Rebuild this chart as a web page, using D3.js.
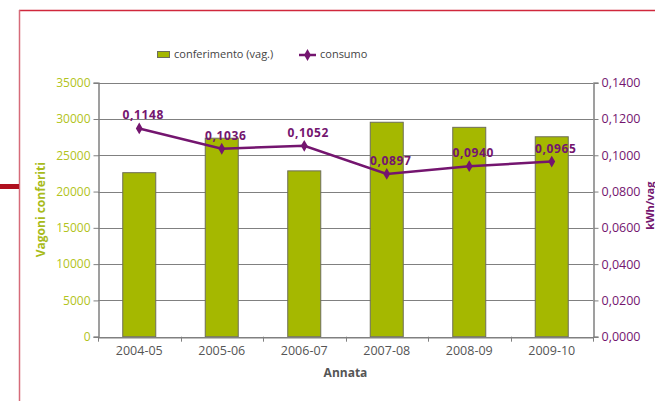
<!DOCTYPE html>
<html><head><meta charset="utf-8">
<script src="https://cdn.jsdelivr.net/npm/d3@7"></script>
<style>body{margin:0;background:#fff}svg{display:block}text{font-family:"DejaVu Sans",sans-serif}</style>
</head><body><svg id="c" width="655" height="401"></svg>
<script>
const categories = ["2004-05","2005-06","2006-07","2007-08","2008-09","2009-10"];
const conferimento = [22600, 27350, 22850, 29550, 28850, 27550];
const consumo = [0.1148, 0.1036, 0.1052, 0.0897, 0.0940, 0.0965];
const consumoLabels = ["0,1148","0,1036","0,1052","0,0897","0,0940","0,0965"];
const leftTicks = [0,5000,10000,15000,20000,25000,30000,35000];
const rightTicks = [0,0.02,0.04,0.06,0.08,0.10,0.12,0.14];

const svg = d3.select("#c");
const L=98, R=593, T=82.7, B=336.7;
const green="#a5b800", purple="#74156f", gray="#808080";
const font="'Open Sans',sans-serif";

// frame
svg.append("line").attr("x1",19).attr("x2",655).attr("y1",10.5).attr("y2",10.5).attr("stroke","#d0283c").attr("stroke-width",1.5);
svg.append("line").attr("x1",19.5).attr("x2",19.5).attr("y1",10).attr("y2",401).attr("stroke","#d66b7a").attr("stroke-width",1.5);
svg.append("rect").attr("x",0).attr("y",184).attr("width",19).attr("height",5).attr("fill","#b0101f");

const x = d3.scaleBand().domain(categories).range([L,R]).padding(0);
const yL = d3.scaleLinear().domain([0,35000]).range([B,T]);
const yR = d3.scaleLinear().domain([0,0.14]).range([B,T]);

// gridlines
svg.append("g").selectAll("line").data(leftTicks.slice(1)).join("line")
  .attr("x1",L).attr("x2",R).attr("y1",d=>Math.round(yL(d))+0.5).attr("y2",d=>Math.round(yL(d))+0.5)
  .attr("stroke",gray).attr("stroke-width",1);

// bars
const bw = x.bandwidth()*0.4;
svg.append("g").selectAll("rect").data(conferimento).join("rect")
  .attr("x",(d,i)=>x(categories[i])+x.bandwidth()/2-bw/2)
  .attr("y",d=>yL(d)).attr("width",bw).attr("height",d=>B-yL(d))
  .attr("fill",green).attr("stroke","#6e6e5a").attr("stroke-width",1);

// left axis
const gL = svg.append("g").attr("transform",`translate(${L+0.5},0)`)
  .call(d3.axisLeft(yL).tickValues(leftTicks).tickSize(5).tickPadding(3).tickFormat(d3.format("d")));
gL.select(".domain").attr("stroke",gray).attr("stroke-width",1.5);
gL.selectAll(".tick line").attr("stroke",gray);
gL.selectAll("text").attr("fill","#b2c320").style("font-size","12px").style("font-family",font);

// right axis
const gR = svg.append("g").attr("transform",`translate(${R+0.5},0)`)
  .call(d3.axisRight(yR).tickValues(rightTicks).tickSize(5).tickPadding(3).tickFormat(d=>d3.format(".4f")(d).replace(".",",")));
gR.select(".domain").attr("stroke",gray).attr("stroke-width",1.5);
gR.selectAll(".tick line").attr("stroke",gray);
gR.selectAll("text").attr("fill",purple).style("font-size","12.5px").style("font-family",font);

// bottom axis
const gB = svg.append("g").attr("transform",`translate(0,${B+0.5})`)
  .call(d3.axisBottom(x).tickSize(0).tickPadding(9));
gB.select(".domain").attr("stroke",gray).attr("stroke-width",1.5);
gB.selectAll("text").attr("fill","#555").style("font-size","12.5px").style("font-family",font);
svg.append("g").selectAll("line").data(categories.concat(["end"])).join("line")
  .attr("x1",(d,i)=>Math.round(L+i*x.bandwidth())+0.5).attr("x2",(d,i)=>Math.round(L+i*x.bandwidth())+0.5)
  .attr("y1",B).attr("y2",B+5).attr("stroke",gray);

// line
const line = d3.line().x((d,i)=>x(categories[i])+x.bandwidth()/2).y(d=>yR(d));
svg.append("path").datum(consumo).attr("d",line).attr("fill","none").attr("stroke",purple).attr("stroke-width",2.5);
const diamond = d3.symbol().type(d3.symbolDiamond).size(40);
svg.append("g").selectAll("path").data(consumo).join("path")
  .attr("d",diamond).attr("transform",(d,i)=>`translate(${x(categories[i])+x.bandwidth()/2},${yR(d)})`)
  .attr("fill",purple);
svg.append("g").selectAll("text").data(consumo).join("text")
  .attr("x",(d,i)=>x(categories[i])+x.bandwidth()/2+4).attr("y",d=>yR(d)-9)
  .attr("text-anchor","middle").attr("fill",purple).style("font-size","12px").style("font-weight","bold")
  .style("font-family",font).style("letter-spacing","0.6px")
  .text((d,i)=>consumoLabels[i]);

// axis titles
svg.append("text").attr("transform",`translate(45,${(T+B)/2}) rotate(-90)`).attr("text-anchor","middle")
  .attr("fill","#a8bb1a").style("font-size","12px").style("font-weight","bold").style("font-family",font).text("Vagoni conferiti");
svg.append("text").attr("transform",`translate(654,${(T+B)/2-4}) rotate(-90)`).attr("text-anchor","middle")
  .attr("fill",purple).style("font-size","11px").style("font-weight","bold").style("font-family",font).text("kWh/vag");
svg.append("text").attr("x",(L+R)/2).attr("y",377).attr("text-anchor","middle")
  .attr("fill","#555").style("font-size","12px").style("font-weight","bold").style("font-family",font).text("Annata");

// legend
const lg = svg.append("g");
lg.append("rect").attr("x",157.5).attr("y",51.5).attr("width",12).attr("height",6).attr("fill",green).attr("stroke","#6e6e5a");
lg.append("text").attr("x",174).attr("y",58).attr("fill","#444").style("font-size","11px").style("font-family",font).text("conferimento (vag.)");
lg.append("line").attr("x1",299).attr("x2",316).attr("y1",55).attr("y2",55).attr("stroke",purple).attr("stroke-width",2.5);
lg.append("path").attr("d",diamond).attr("transform","translate(307.5,55)").attr("fill",purple);
lg.append("text").attr("x",320).attr("y",58).attr("fill","#444").style("font-size","11px").style("font-family",font).text("consumo");
</script></body></html>
